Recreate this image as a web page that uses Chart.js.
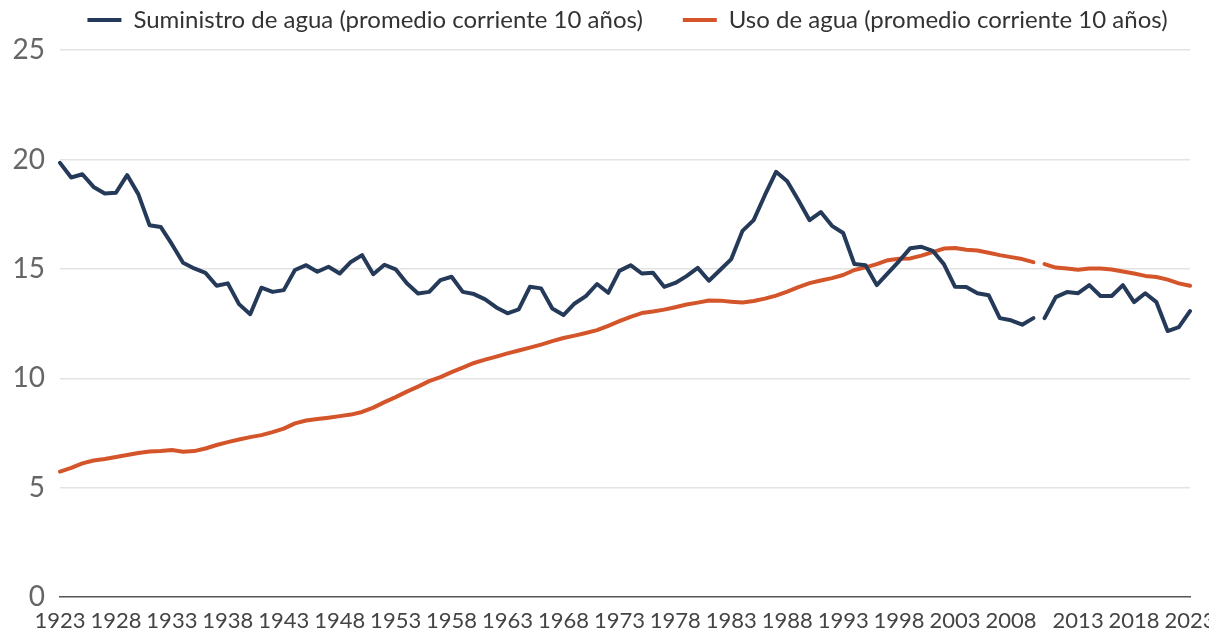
<!DOCTYPE html>
<html>
<head>
<meta charset="utf-8">
<script src="https://cdn.jsdelivr.net/npm/chart.js@4"></script>
<style>
  html, body { margin: 0; padding: 0; background: #fff; overflow: hidden; }
  #wrap { width: 1255px; height: 634px; }
</style>
</head>
<body>
<div id="wrap"><canvas id="waterChart" width="1255" height="634"></canvas></div>
<script>
// Start Data

// Years on the x axis. 2010 appears twice: the series are broken between the two.
const years = [
  1923, 1924, 1925, 1926, 1927, 1928, 1929, 1930, 1931, 1932,
  1933, 1934, 1935, 1936, 1937, 1938, 1939, 1940, 1941, 1942,
  1943, 1944, 1945, 1946, 1947, 1948, 1949, 1950, 1951, 1952,
  1953, 1954, 1955, 1956, 1957, 1958, 1959, 1960, 1961, 1962,
  1963, 1964, 1965, 1966, 1967, 1968, 1969, 1970, 1971, 1972,
  1973, 1974, 1975, 1976, 1977, 1978, 1979, 1980, 1981, 1982,
  1983, 1984, 1985, 1986, 1987, 1988, 1989, 1990, 1991, 1992,
  1993, 1994, 1995, 1996, 1997, 1998, 1999, 2000, 2001, 2002,
  2003, 2004, 2005, 2006, 2007, 2008, 2009, 2010,
  2010, 2011, 2012, 2013, 2014, 2015, 2016, 2017, 2018, 2019,
  2020, 2021, 2022, 2023
];

// index of the last point before the break
const breakIndex = 87;

const tickLabels = [
  "1923", "1928", "1933", "1938", "1943", "1948", "1953", "1958", "1963", "1968",
  "1973", "1978", "1983", "1988", "1993", "1998", "2003", "2008", "2013", "2018", "2023"
];

const supply = [
  19.85, 19.18, 19.33, 18.75, 18.45, 18.48, 19.29, 18.42, 17.0, 16.92,
  16.13, 15.28, 15.02, 14.82, 14.23, 14.34, 13.39, 12.93, 14.14, 13.95,
  14.03, 14.95, 15.17, 14.87, 15.1, 14.79, 15.32, 15.63, 14.76, 15.19,
  14.98, 14.34, 13.88, 13.95, 14.49, 14.64, 13.95, 13.85, 13.61, 13.24,
  12.97, 13.15, 14.18, 14.11, 13.19, 12.89, 13.42, 13.76, 14.31, 13.91,
  14.91, 15.17, 14.79, 14.82, 14.18, 14.36, 14.67, 15.05, 14.46, 14.95,
  15.45, 16.74, 17.23, 18.37, 19.44, 19.01, 18.14, 17.23, 17.6, 16.97,
  16.64, 15.22, 15.17, 14.26, 14.81, 15.36, 15.95, 16.01, 15.83, 15.22,
  14.18, 14.17, 13.89, 13.8, 12.75, 12.65, 12.45, 12.75,
  12.75, 13.71, 13.94, 13.89, 14.26, 13.76, 13.76, 14.26, 13.48, 13.89,
  13.48, 12.16, 12.34, 13.07
];

const usage = [
  5.73, 5.9, 6.11, 6.24, 6.31, 6.4, 6.49, 6.58, 6.65, 6.67,
  6.72, 6.64, 6.67, 6.79, 6.95, 7.08, 7.2, 7.31, 7.4, 7.54,
  7.7, 7.94, 8.07, 8.14, 8.2, 8.27, 8.34, 8.46, 8.66, 8.91,
  9.14, 9.39, 9.62, 9.87, 10.05, 10.28, 10.49, 10.7, 10.85, 10.99,
  11.14, 11.27, 11.4, 11.54, 11.7, 11.84, 11.95, 12.07, 12.2, 12.4,
  12.61, 12.81, 12.98, 13.05, 13.14, 13.25, 13.37, 13.46, 13.56, 13.55,
  13.5, 13.46, 13.53, 13.64, 13.78, 13.96, 14.17, 14.35, 14.47, 14.58,
  14.72, 14.95, 15.07, 15.22, 15.4, 15.46, 15.48, 15.61, 15.77, 15.93,
  15.96, 15.88, 15.84, 15.74, 15.63, 15.54, 15.45, 15.31,
  15.22, 15.06, 15.02, 14.96, 15.02, 15.02, 14.97, 14.88, 14.79, 14.68,
  14.63, 14.51, 14.34, 14.23
];

// End Data

const BLUE = "#253a58";
const ORANGE = "#d4552a";
const FONT = "Lato, 'Open Sans', sans-serif";

// hide the segment across the break
function breakColor(color) {
  return (ctx) => (ctx.p0DataIndex === breakIndex ? "rgba(0,0,0,0)" : color);
}

const lineData = {
  labels: years.map(String),
  datasets: [
    {
      label: "Suministro de agua (promedio corriente 10 años)",
      data: supply,
      borderColor: BLUE,
      backgroundColor: BLUE,
      segment: { borderColor: breakColor(BLUE) },
    },
    {
      label: "Uso de agua (promedio corriente 10 años)",
      data: usage,
      borderColor: ORANGE,
      backgroundColor: ORANGE,
      segment: { borderColor: breakColor(ORANGE) },
    },
  ],
};

const waterChart = new Chart(document.getElementById("waterChart"), {
  type: "line",
  data: lineData,
  options: {
    responsive: false,
    animation: false,
    devicePixelRatio: 1,
    layout: {
      padding: { top: -32, right: 0, bottom: 0, left: 0 },
    },
    elements: {
      line: {
        borderWidth: 4,
        tension: 0,
        fill: false,
        borderJoinStyle: "round",
        borderCapStyle: "round",
      },
      point: { radius: 0, hoverRadius: 0 },
    },
    scales: {
      x: {
        grid: { display: false, drawTicks: false },
        border: { display: true, color: "#555", width: 1.5 },
        afterFit: (scale) => { scale.height = 37; },
        ticks: {
          autoSkip: false,
          maxRotation: 0,
          minRotation: 0,
          padding: 11,
          color: "#444",
          font: { family: FONT, size: 22 },
          callback: function (value, index) {
            const label = this.getLabelForValue(value);
            return tickLabels.includes(label) && index !== breakIndex + 1 ? label : "";
          },
        },
      },
      y: {
        min: 0,
        max: 25,
        grid: {
          drawTicks: false,
          lineWidth: 1.5,
          color: (ctx) => (ctx.tick.value === 0 ? "rgba(0,0,0,0)" : "#e3e3e3"),
        },
        border: { display: false },
        afterFit: (scale) => { scale.width = 60; },
        ticks: {
          stepSize: 5,
          padding: 15,
          color: "#666",
          font: { family: FONT, size: 28 },
        },
      },
      // empty right-hand strip so the plot ends where the reference's does
      yRight: {
        position: "right",
        grid: { display: false, drawTicks: false },
        border: { display: false },
        ticks: { display: false },
        afterFit: (scale) => { scale.width = 65; },
      },
    },
    plugins: {
      legend: {
        position: "top",
        labels: {
          boxWidth: 34,
          boxHeight: 4,
          padding: 40,
          color: "#333",
          font: { family: FONT, size: 24 },
          generateLabels: (chart) =>
            Chart.defaults.plugins.legend.labels.generateLabels(chart).map((item) => ({
              ...item,
              lineWidth: 0,
            })),
        },
      },
      // blank spacer between legend and plot
      subtitle: {
        display: true,
        text: "",
        weight: 500,
        font: { size: 1 },
        padding: { top: 0, bottom: 7 },
      },
      tooltip: { enabled: false },
    },
  },
});
</script>
</body>
</html>
